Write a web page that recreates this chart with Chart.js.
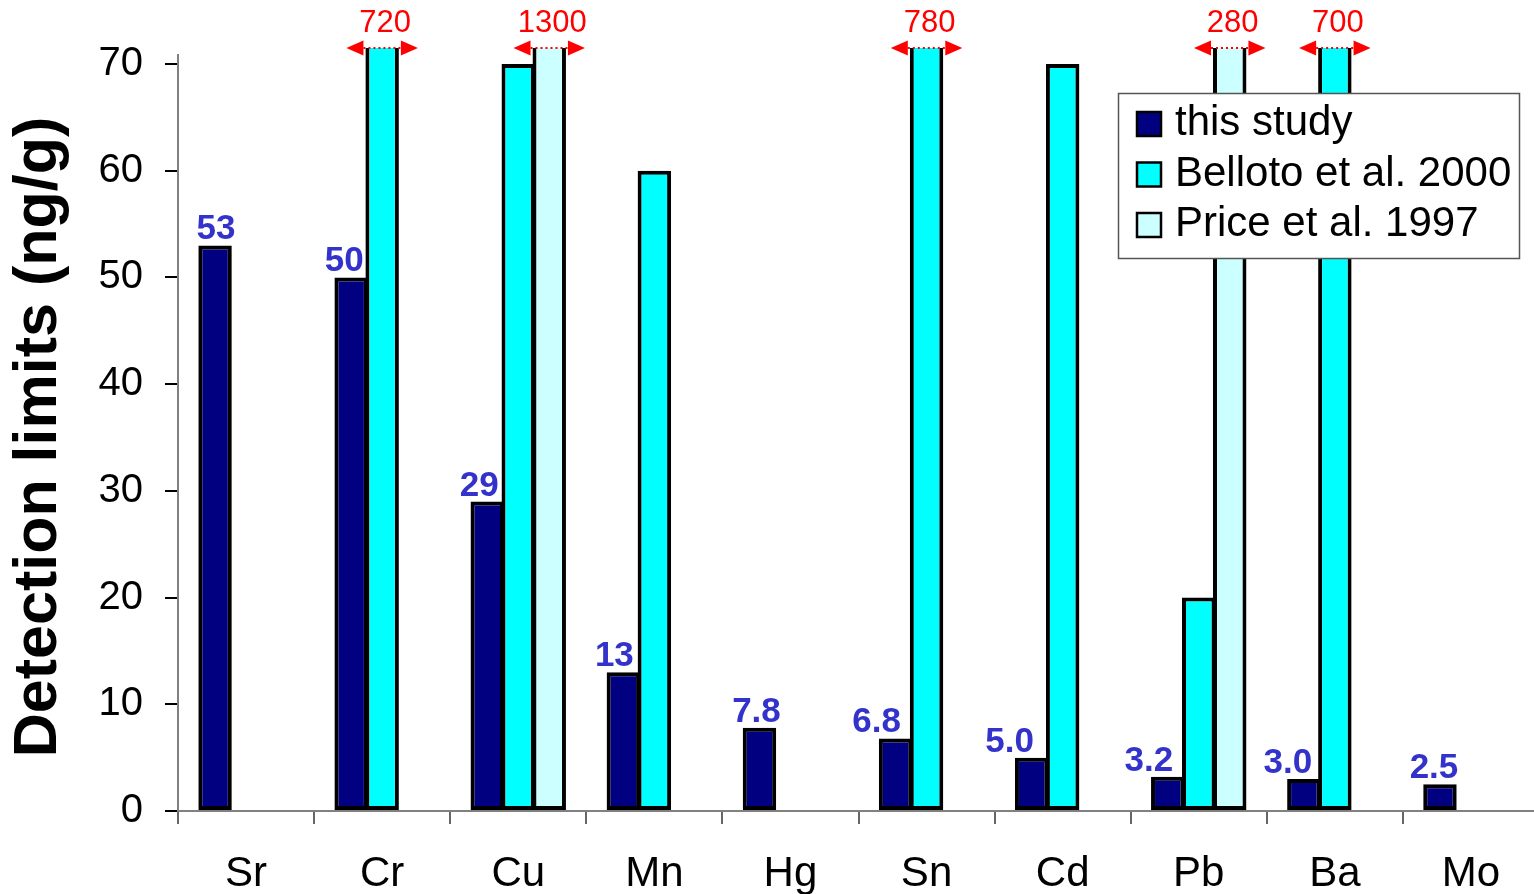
<!DOCTYPE html>
<html>
<head>
<meta charset="utf-8">
<script src="https://cdn.jsdelivr.net/npm/chart.js@4/dist/chart.umd.min.js"></script>
<style>
  html, body { margin: 0; padding: 0; background: #fff; overflow: hidden; }
  #wrap { position: relative; width: 1539px; height: 894px; }
</style>
</head>
<body>
<div id="wrap"><canvas id="c"></canvas></div>
<script>
const categories = ['Sr', 'Cr', 'Cu', 'Mn', 'Hg', 'Sn', 'Cd', 'Pb', 'Ba', 'Mo'];
const thisStudy = [53, 50, 29, 13, 7.8, 6.8, 5.0, 3.2, 3.0, 2.5];
const belloto2000 = [null, 720, 70, 60, null, 780, 70, 20, 700, null];
const price1997 = [null, null, 1300, null, null, null, null, 280, null, null];
const seriesNames = ['this study', 'Belloto et al. 2000', 'Price et al. 1997'];
const yTicks = [0, 10, 20, 30, 40, 50, 60, 70];
const yTitle = 'Detection limits (ng/g)';

const FONT = '"Liberation Sans", Arial, sans-serif';
const colors = ['#000080', '#00FFFF', '#CCFFFF'];
const labelDx = [1, -7, -8, -9, -3, -19, -22, -19, -16, -6];

function fmt(v) { return v >= 10 ? String(Math.round(v)) : v.toFixed(1); }

const decor = {
  id: 'decor',
  beforeDatasetsDraw(chart) {
    const { ctx, scales: { y }, chartArea } = chart;
    ctx.save();
    ctx.strokeStyle = '#808080';
    ctx.lineWidth = 2;
    ctx.beginPath();
    ctx.moveTo(chartArea.left, y.getPixelForValue(0));
    ctx.lineTo(chartArea.left, y.getPixelForValue(70) - 10);
    ctx.stroke();
    ctx.translate(56, 437);
    ctx.rotate(-Math.PI / 2);
    ctx.font = 'bold 61px ' + FONT;
    ctx.fillStyle = '#000';
    ctx.textAlign = 'center';
    ctx.textBaseline = 'alphabetic';
    ctx.fillText(yTitle, 0, 0);
    ctx.restore();
  },
  afterDatasetsDraw(chart) {
    const { ctx, scales: { y }, chartArea } = chart;
    ctx.save();
    const meta0 = chart.getDatasetMeta(0);
    ctx.font = 'bold 35px ' + FONT;
    ctx.fillStyle = '#3333CC';
    ctx.textAlign = 'center';
    ctx.textBaseline = 'alphabetic';
    meta0.data.forEach((bar, i) => {
      const v = thisStudy[i];
      if (v == null) return;
      ctx.fillText(fmt(v), bar.x + labelDx[i], bar.y - 6);
    });
    chart.data.datasets.forEach((ds, di) => {
      const meta = chart.getDatasetMeta(di);
      ds.data.forEach((v, i) => {
        if (v == null || v <= y.max) return;
        const bar = meta.data[i];
        const l = bar.x - bar.width / 2, r = bar.x + bar.width / 2;
        const t = chartArea.top;
        ctx.fillStyle = '#FF0000';
        ctx.beginPath();
        ctx.moveTo(l - 19, t); ctx.lineTo(l - 2, t - 7.5); ctx.lineTo(l - 2, t + 7.5); ctx.closePath();
        ctx.fill();
        ctx.beginPath();
        ctx.moveTo(r + 19, t); ctx.lineTo(r + 2, t - 7.5); ctx.lineTo(r + 2, t + 7.5); ctx.closePath();
        ctx.fill();
        ctx.strokeStyle = '#FF0000';
        ctx.lineWidth = 2;
        ctx.setLineDash([2, 3]);
        ctx.beginPath();
        ctx.moveTo(l - 2, t); ctx.lineTo(r + 2, t);
        ctx.stroke();
        ctx.setLineDash([]);
        ctx.font = '31px ' + FONT;
        ctx.textAlign = 'center';
        ctx.textBaseline = 'alphabetic';
        ctx.fillText(String(v), bar.x + 3, t - 16);
      });
    });
    ctx.restore();
  },
  afterDraw(chart) {
    const { ctx, chartArea } = chart;
    const bx = chartArea.right - 421, by = 93, bw = 401, bh = 165;
    ctx.save();
    ctx.fillStyle = '#fff';
    ctx.fillRect(bx, by, bw, bh);
    ctx.strokeStyle = '#555';
    ctx.lineWidth = 1.5;
    ctx.strokeRect(bx + 0.5, by + 0.5, bw, bh);
    ctx.font = '42px ' + FONT;
    ctx.textAlign = 'left';
    ctx.textBaseline = 'alphabetic';
    seriesNames.forEach((name, i) => {
      const cy = by + 31 + i * 50.5;
      ctx.fillStyle = colors[i];
      ctx.fillRect(bx + 19, cy - 12, 24, 24);
      ctx.strokeStyle = '#000';
      ctx.lineWidth = 2.5;
      ctx.strokeRect(bx + 19, cy - 12, 24, 24);
      ctx.fillStyle = '#000';
      ctx.fillText(name, bx + 57, cy + 11);
    });
    ctx.restore();
  }
};

const mkDs = (label, data, i) => ({
  label, data,
  backgroundColor: colors[i],
  borderColor: '#000',
  borderWidth: 4,
  borderSkipped: false,
  clip: 0,
  categoryPercentage: 0.683,
  barPercentage: 1.08
});

new Chart(document.getElementById('c'), {
  type: 'bar',
  data: {
    labels: categories,
    datasets: [
      mkDs(seriesNames[0], thisStudy, 0),
      mkDs(seriesNames[1], belloto2000, 1),
      mkDs(seriesNames[2], price1997, 2)
    ]
  },
  options: {
    responsive: true,
    maintainAspectRatio: false,
    animation: false,
    layout: { padding: { top: 48, right: 0, left: 0, bottom: 0 } },
    plugins: { legend: { display: false }, tooltip: { enabled: false } },
    scales: {
      x: {
        offset: true,
        grid: { offset: true, drawOnChartArea: false, color: '#666', tickColor: '#666', tickLength: 13, lineWidth: 2 },
        border: { display: true, color: '#808080', width: 2 },
        ticks: { color: '#000', font: { family: FONT, size: 42 }, padding: 25, maxRotation: 0, autoSkip: false },
        afterFit(s) { s.height = 83; }
      },
      y: {
        min: 0,
        max: 71.5,
        afterBuildTicks(s) { s.ticks = yTicks.map(v => ({ value: v })); },
        grid: { drawOnChartArea: false, tickColor: '#000', tickLength: 13, lineWidth: 2 },
        border: { display: false },
        ticks: { color: '#000', font: { family: FONT, size: 40 }, padding: 22 },
        title: { display: false },
        afterFit(s) { s.width = 178; }
      }
    }
  },
  plugins: [decor]
});
</script>
</body>
</html>
